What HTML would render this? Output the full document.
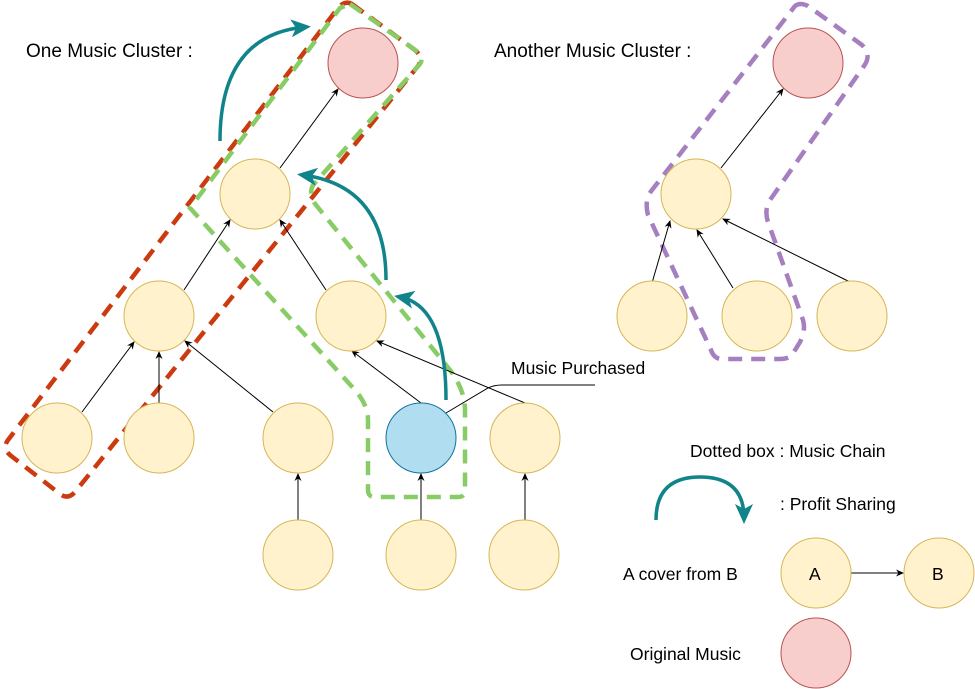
<!DOCTYPE html>
<html><head><meta charset="utf-8"><style>
html,body{margin:0;padding:0;background:#fff;}
svg{display:block;font-family:"Liberation Sans",Arial,sans-serif;}
</style></head><body>
<svg width="975" height="689" viewBox="0 0 975 689" xmlns="http://www.w3.org/2000/svg">
<defs>
<marker id="ah" markerWidth="8" markerHeight="8" refX="7" refY="4" orient="auto" markerUnits="userSpaceOnUse"><path d="M0,0.5 L8,4 L0,7.5 L2.5,4 Z" fill="#000"/></marker>
<marker id="th" markerWidth="24" markerHeight="20" refX="14" refY="10" orient="auto" markerUnits="userSpaceOnUse"><path d="M0,1 L20,10 L0,19 L5,10 Z" fill="#10848a"/></marker>
</defs>
<g fill="none" stroke-linecap="butt">
<path d="M352,4 L415,50 Q424,58 418,66 L75,492 Q68,500 60,494 L10,455 Q2,448 8,440 L338,8 Q345,0 352,4 Z" stroke="#cc3a10" stroke-width="4.5" stroke-dasharray="14,9"/>
<path d="M350,4 L418,52 Q424,58 420,64 L313,185 Q308,195 316,205 L450,370 Q465,390 465,410 L465,490 Q465,497 458,497 L375,497 Q368,497 368,490 L368,420 Q368,405 355,390 L190,208 L340,8 Z" stroke="#88cc66" stroke-width="4.5" stroke-dasharray="14,9"/>
<path d="M795,6 Q800,2 808,6 L862,45 Q872,55 864,66 L770,200 Q764,210 768,222 L803,320 Q806,330 800,342 L792,355 Q788,359 780,359 L722,359 Q714,359 711,350 L648,215 Q644,200 652,190 Z" stroke="#a57fc0" stroke-width="4.5" stroke-dasharray="14,9"/>
</g>
<g stroke="#000" stroke-width="1" marker-end="url(#ah)">
<line x1="280" y1="168" x2="338" y2="89"/>
<line x1="184" y1="290" x2="230" y2="220"/>
<line x1="326" y1="290" x2="280" y2="220"/>
<line x1="82" y1="412" x2="134" y2="342"/>
<line x1="159" y1="403" x2="159" y2="352"/>
<line x1="273" y1="412" x2="185" y2="341"/>
<line x1="421" y1="403" x2="352" y2="351"/>
<line x1="525" y1="403" x2="377" y2="341"/>
<line x1="298" y1="520" x2="298" y2="474"/>
<line x1="421" y1="520" x2="421" y2="474"/>
<line x1="525" y1="520" x2="525" y2="474"/>
<line x1="721" y1="168" x2="783" y2="89"/>
<line x1="652" y1="283" x2="670" y2="221"/>
<line x1="733" y1="288" x2="697" y2="230"/>
<line x1="852" y1="283" x2="723" y2="219"/>
<line x1="851" y1="573" x2="903" y2="573"/>
</g>
<path d="M446,413 L488,388 Q494,385 502,385 L595,385" fill="none" stroke="#000" stroke-width="1"/>
<g stroke-width="1">
<circle cx="363" cy="63" r="35" fill="#f8cecc" stroke="#b85450"/>
<circle cx="808" cy="63" r="35" fill="#f8cecc" stroke="#b85450"/>
<circle cx="816" cy="653" r="35" fill="#f8cecc" stroke="#b85450"/>
<g fill="#fff2cc" stroke="#d6b656">
<circle cx="255" cy="194" r="35"/>
<circle cx="159" cy="316" r="35"/>
<circle cx="351" cy="316" r="35"/>
<circle cx="57" cy="438" r="35"/>
<circle cx="159" cy="438" r="35"/>
<circle cx="298" cy="438" r="35"/>
<circle cx="525" cy="438" r="35"/>
<circle cx="298" cy="555" r="35"/>
<circle cx="421" cy="555" r="35"/>
<circle cx="524" cy="555" r="35"/>
<circle cx="696" cy="194" r="35"/>
<circle cx="652" cy="316" r="35"/>
<circle cx="757" cy="316" r="35"/>
<circle cx="852" cy="316" r="35"/>
<circle cx="816" cy="573" r="35"/>
<circle cx="939" cy="573" r="35"/>
</g>
<circle cx="421" cy="438" r="35" fill="#b1ddf0" stroke="#10739e"/>
</g>
<g fill="none" stroke="#10848a" stroke-width="3.5" marker-end="url(#th)">
<path d="M220,141 Q220,35 305,27"/>
<path d="M386,280 Q386,186 303,175"/>
<path d="M446,400 Q446,306 400,297"/>
<path d="M656,520 Q656,477 700,477 Q744,477 744,518"/>
</g>
<g font-size="17.5" fill="#000">
<text x="26" y="57" font-size="19">One Music Cluster :</text>
<text x="494" y="57" font-size="19">Another Music Cluster :</text>
<text x="511" y="374">Music Purchased</text>
<text x="690" y="457">Dotted box : Music Chain</text>
<text x="780" y="510">: Profit Sharing</text>
<text x="623" y="580">A cover from B</text>
<text x="630" y="660">Original Music</text>
<text x="809" y="580">A</text>
<text x="932" y="580">B</text>
</g>
</svg>
</body></html>
